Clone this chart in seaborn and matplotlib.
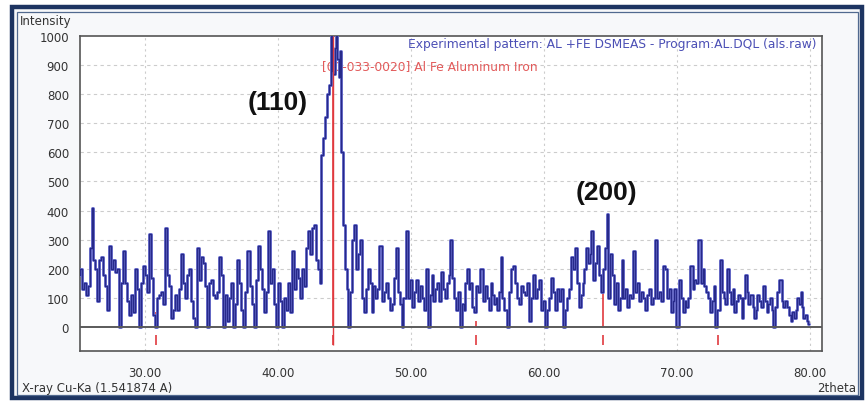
import numpy as np
import pandas as pd
import matplotlib
matplotlib.use("Agg")
import matplotlib.pyplot as plt
from matplotlib.patches import Rectangle
from matplotlib.font_manager import FontProperties
import seaborn as sns

# ---------------- data ----------------
two_theta = [
    25.0, 25.15, 25.3, 25.45, 25.6, 25.75, 25.9, 26.05, 26.2, 26.35, 26.5, 26.65, 26.8, 26.95,
    27.1, 27.25, 27.4, 27.55, 27.7, 27.85, 28.0, 28.15, 28.3, 28.45, 28.6, 28.75, 28.9, 29.05,
    29.2, 29.35, 29.5, 29.65, 29.8, 29.95, 30.1, 30.25, 30.4, 30.55, 30.7, 30.85, 31.0, 31.15,
    31.3, 31.45, 31.6, 31.75, 31.9, 32.05, 32.2, 32.35, 32.5, 32.65, 32.8, 32.95, 33.1, 33.25,
    33.4, 33.55, 33.7, 33.85, 34.0, 34.15, 34.3, 34.45, 34.6, 34.75, 34.9, 35.05, 35.2, 35.35,
    35.5, 35.65, 35.8, 35.95, 36.1, 36.25, 36.4, 36.55, 36.7, 36.85,
    37.0, 37.15, 37.3, 37.45, 37.6, 37.8, 37.95, 38.1, 38.25, 38.4, 38.55, 38.7, 38.85, 39.0,
    39.15, 39.3, 39.45, 39.6, 39.75, 39.9, 40.05, 40.2, 40.35, 40.5, 40.65, 40.8, 40.95, 41.1,
    41.25, 41.4, 41.55, 41.7, 41.85, 42.0, 42.15, 42.3, 42.45, 42.6, 42.75, 42.9, 43.05, 43.2,
    43.3, 43.45, 43.6, 43.75, 43.9, 44.0, 44.1, 44.2, 44.3, 44.4, 44.5, 44.6, 44.7, 44.8,
    44.95, 45.1, 45.2, 45.35, 45.5, 45.65, 45.8, 45.95,
    46.1, 46.25, 46.4, 46.55, 46.7, 46.85, 47.0, 47.1, 47.25, 47.4, 47.5, 47.75, 47.9, 48.05,
    48.2, 48.35, 48.5, 48.65, 48.8, 48.95, 49.1, 49.25, 49.35, 49.5, 49.7, 49.85, 50.0, 50.15,
    50.3, 50.45, 50.6, 50.75, 50.9, 51.05, 51.2, 51.35, 51.5, 51.6, 51.75, 51.9, 52.05, 52.2,
    52.3, 52.45, 52.6, 52.75, 52.9, 53.0, 53.15, 53.3, 53.45, 53.6, 53.75, 53.9, 54.0, 54.15,
    54.25, 54.4, 54.5, 54.65, 54.8, 54.95, 55.1, 55.3, 55.45, 55.6, 55.75, 55.9, 56.05, 56.2,
    56.3, 56.45, 56.55, 56.7, 56.8, 56.95, 57.1, 57.3, 57.45, 57.6,
    57.75, 57.9, 58.05, 58.2, 58.35, 58.5, 58.7, 58.8, 59.0, 59.1, 59.25, 59.4, 59.55, 59.7,
    59.85, 60.0, 60.2, 60.3, 60.45, 60.6, 60.75, 60.9, 61.05, 61.2, 61.3, 61.5, 61.65, 61.8,
    61.95, 62.1, 62.25, 62.4, 62.55, 62.7, 62.85, 62.95, 63.1, 63.2, 63.35, 63.5, 63.6, 63.75,
    63.9, 64.05, 64.2, 64.35, 64.5, 64.65, 64.75, 64.9, 65.05, 65.15, 65.3, 65.45, 65.6, 65.75,
    65.9, 66.05, 66.2, 66.35, 66.5, 66.6, 66.75, 66.9, 67.05, 67.2, 67.35, 67.5, 67.7, 67.85,
    68.0, 68.15, 68.3, 68.45, 68.6, 68.75, 68.85, 69.0, 69.15,
    69.3, 69.45, 69.6, 69.75, 69.85, 70.05, 70.2, 70.35, 70.5, 70.65, 70.75, 70.9, 71.1, 71.25,
    71.35, 71.5, 71.7, 71.85, 72.0, 72.1, 72.25, 72.35, 72.55, 72.7, 72.8, 72.95, 73.1, 73.3,
    73.45, 73.55, 73.7, 73.85, 74.0, 74.1, 74.25, 74.35, 74.5, 74.65, 74.8, 74.9, 75.05, 75.15,
    75.3, 75.4, 75.6, 75.75, 75.85, 76.0, 76.1, 76.25, 76.35, 76.55, 76.7, 76.8, 76.95, 77.05,
    77.2, 77.3, 77.45, 77.6, 77.8, 77.95, 78.05, 78.2, 78.35, 78.5, 78.6, 78.75, 78.85, 79.0,
    79.1, 79.25, 79.35, 79.45, 79.55, 79.7, 79.8, 79.95,
]
intensity = [
    180, 200, 130, 150, 110, 140, 270, 410, 230, 200, 90, 230, 240, 180,
    140, 60, 280, 200, 230, 190, 200, 0, 150, 260, 150, 90, 40, 110,
    50, 200, 130, 0, 150, 210, 180, 120, 320, 170, 40, 0, 100, 110,
    120, 80, 340, 180, 140, 30, 60, 110, 60, 130, 250, 150, 100, 180,
    200, 90, 30, 0, 270, 160, 240, 220, 140, 0, 150, 160, 110, 100,
    120, 240, 180, 0, 110, 20, 100, 150, 0, 80,
    230, 150, 60, 0, 120, 260, 140, 80, 0, 160, 280, 200, 130, 50,
    120, 330, 150, 200, 80, 0, 150, 90, 0, 100, 60, 150, 50, 260,
    130, 200, 170, 100, 200, 140, 270, 330, 250, 340, 350, 230, 200, 150,
    590, 650, 720, 800, 830, 1050, 880, 870, 960, 1050, 920, 860, 950, 600,
    350, 200, 130, 0, 120, 300, 350, 200,
    250, 300, 100, 50, 130, 200, 150, 50, 140, 100, 130, 280, 90, 120,
    150, 100, 60, 80, 170, 270, 120, 80, 0, 100, 330, 100, 160, 70,
    120, 160, 90, 140, 100, 60, 200, 0, 110, 180, 90, 130, 150, 90,
    190, 130, 100, 150, 180, 300, 170, 100, 60, 120, 0, 80, 60, 150,
    200, 130, 150, 70, 50, 140, 120, 200, 90, 140, 100, 60, 150, 110,
    80, 100, 60, 120, 240, 100, 60, 0, 120, 200,
    210, 150, 100, 80, 140, 120, 110, 150, 20, 100, 180, 100, 130, 160,
    60, 90, 0, 60, 100, 170, 120, 60, 130, 90, 130, 0, 60, 100,
    130, 240, 200, 270, 150, 70, 110, 150, 200, 270, 220, 250, 330, 160,
    220, 280, 180, 120, 200, 270, 390, 100, 250, 180, 80, 150, 60, 100,
    230, 100, 130, 70, 110, 100, 260, 120, 150, 90, 120, 100, 60, 110,
    130, 80, 100, 300, 100, 120, 90, 210, 200,
    100, 130, 50, 90, 130, 0, 160, 100, 50, 90, 70, 100, 210, 130,
    160, 150, 300, 150, 200, 140, 120, 100, 50, 90, 140, 0, 60, 230,
    120, 100, 80, 200, 120, 80, 130, 50, 90, 110, 100, 30, 100, 180,
    120, 80, 110, 70, 30, 60, 110, 90, 70, 140, 90, 50, 80, 100,
    60, 0, 70, 120, 160, 90, 70, 90, 70, 40, 20, 50, 30, 60,
    100, 80, 120, 70, 30, 40, 20, 10,
]

ref_positions = [30.85, 44.15, 54.85, 64.4, 73.05]
ref_heights = [50, 1000, 20, 120, 20]

x_ticks = [30, 40, 50, 60, 70, 80]
y_ticks = [0, 100, 200, 300, 400, 500, 600, 700, 800, 900, 1000]

legend_exp = "Experimental pattern: AL +FE DSMEAS - Program:AL.DQL (als.raw)"
legend_ref = "[00-033-0020] Al Fe Aluminum Iron"

df = pd.DataFrame({"two_theta": two_theta, "intensity": intensity})

# ---------------- figure ----------------
sns.set_style("white")
plt.rcParams["font.family"] = ["DejaVu Sans"]

W, H = 868, 402
fig = plt.figure(figsize=(W / 100, H / 100), dpi=100)
fig.patch.set_facecolor("white")

def fx(px):
    return px / W

def fy(py):
    return 1 - py / H

# outer decorative frame
fig.add_artist(Rectangle((fx(12), fy(399)), fx(850), 391 / H, transform=fig.transFigure,
                         facecolor="#f7f8fa", edgecolor="#1d3461", lw=3.2, zorder=0))
fig.add_artist(Rectangle((fx(16.5), fy(396)), fx(841), 383.5 / H, transform=fig.transFigure,
                         facecolor="none", edgecolor="#51698f", lw=0.9, zorder=0))

ax = fig.add_axes([fx(80), fy(352), fx(822) - fx(80), (352 - 37) / H])
ax.set_facecolor("white")

# reference markers (below data)
for p, h in zip(ref_positions, ref_heights):
    ax.vlines(p, 0, h, color="#e0393e", lw=1.2, zorder=1)
    ax.vlines(p, -62, -28, color="#e0393e", lw=1.2, zorder=1)

# data line: light halo + dark core
sns.lineplot(data=df, x="two_theta", y="intensity", ax=ax, estimator=None,
             drawstyle="steps-mid", color="#6d72d2", lw=2.1, zorder=3)
sns.lineplot(data=df, x="two_theta", y="intensity", ax=ax, estimator=None,
             drawstyle="steps-mid", color="#272a8a", lw=1.0, zorder=4)
# main reference line visible through the peak
ax.vlines(ref_positions[1], -62, 1000, color="#e0393e", lw=1.0, zorder=5)

ax.axhline(0, color="#5a5a5a", lw=1.4, zorder=6)

ax.set_xlim(25.11, 80.9)
ax.set_ylim(-82.5, 1000)
ax.set_xticks(x_ticks)
ax.set_xticklabels([f"{v:.2f}" for v in x_ticks])
ax.set_yticks(y_ticks)
ax.set_yticklabels([str(v) for v in y_ticks])
ax.set_xlabel("")
ax.set_ylabel("")

for v in x_ticks:
    ax.axvline(v, color="#cccccc", lw=0.8, ls=(0, (2, 3)), zorder=0.5)
for v in y_ticks[1:-1]:
    ax.axhline(v, color="#cccccc", lw=0.8, ls=(0, (3, 3)), zorder=0.5)

for s in ax.spines.values():
    s.set_color("#555555")
    s.set_linewidth(1.2)
    s.set_visible(True)

ax.tick_params(axis="both", direction="out", length=5, width=1.1, color="#444444",
               labelsize=8.5, labelcolor="#333333", pad=3)
ax.tick_params(axis="x", pad=6)

# legend texts inside plot
ax.text(0.992, 0.975, legend_exp, transform=ax.transAxes, ha="right", va="center",
        fontsize=8.8, color="#4b4fb5", zorder=2)
ax.text(fx(322), fy(67), legend_ref, transform=fig.transFigure, ha="left", va="center",
        fontsize=8.8, color="#e25a5a", zorder=2)

# peak annotations
bold_fp = FontProperties(family="Liberation Sans", weight="bold", size=19)
fig.text(fx(278), fy(103), "(110)", ha="center", va="center",
         fontproperties=bold_fp, color="#111111")
fig.text(fx(606), fy(193), "(200)", ha="center", va="center",
         fontproperties=bold_fp, color="#111111")

# corner labels
fig.text(fx(20), fy(21), "Intensity", ha="left", va="center", fontsize=8.5, color="#333333")
fig.text(fx(22), fy(389), "X-ray Cu-Ka (1.541874 A)", ha="left", va="center",
         fontsize=8.5, color="#333333")
fig.text(fx(856), fy(389), "2theta", ha="right", va="center", fontsize=8.5, color="#333333")

fig.savefig("out.png", dpi=100, facecolor=fig.get_facecolor())
